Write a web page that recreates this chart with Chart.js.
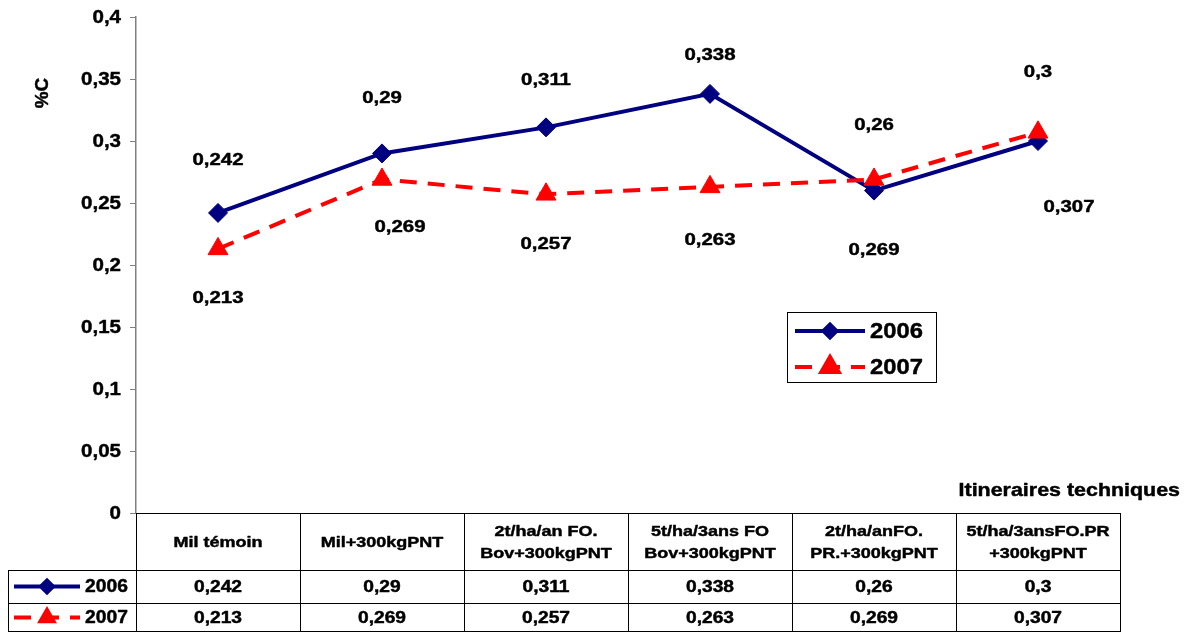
<!DOCTYPE html>
<html>
<head>
<meta charset="utf-8">
<script src="https://cdn.jsdelivr.net/npm/chart.js@4/dist/chart.umd.min.js"></script>
<style>
  html, body { margin: 0; padding: 0; background: #fff; }
  #wrap { width: 1184px; height: 633px; }
</style>
</head>
<body>
<div id="wrap"><canvas id="c" width="1184" height="633"></canvas></div>
<script>
// Itinéraires techniques (table header rows)
const categories = [
  ['Mil témoin'],
  ['Mil+300kgPNT'],
  ['2t/ha/an FO.', 'Bov+300kgPNT'],
  ['5t/ha/3ans FO', 'Bov+300kgPNT'],
  ['2t/ha/anFO.', 'PR.+300kgPNT'],
  ['5t/ha/3ansFO.PR', '+300kgPNT']
];
const values2006 = [0.242, 0.29, 0.311, 0.338, 0.26, 0.3];
const values2007 = [0.213, 0.269, 0.257, 0.263, 0.269, 0.307];
const yTicks = [0, 0.05, 0.1, 0.15, 0.2, 0.25, 0.3, 0.35, 0.4];

const FONT = '"Liberation Sans", Arial, Helvetica, sans-serif';
const fmt = v => String(v).replace('.', ',');

// label placement relative to each point (px)
const labelOffsets = {
  '2006': [[0, -53], [0, -55], [0, -47], [0, -39], [0, -65], [0, -69]],
  '2007': [[0, 49], [18, 48], [0, 50], [0, 53], [0, 71], [31, 75]]
};

// heavy bold text, slightly widened horizontally
function drawText(ctx, text, x, y, size, align, sx) {
  ctx.save();
  ctx.font = 'bold ' + size + 'px ' + FONT;
  ctx.textBaseline = 'middle';
  ctx.fillStyle = '#000';
  ctx.strokeStyle = '#000';
  ctx.lineWidth = 0.45;
  ctx.lineJoin = 'round';
  ctx.translate(x, y);
  ctx.scale(sx, 1);
  ctx.textAlign = align;
  ctx.fillText(text, 0, 0);
  ctx.strokeText(text, 0, 0);
  ctx.restore();
}

const overlay = {
  id: 'overlay',
  afterDatasetsDraw(chart) {
    const ctx = chart.ctx;
    const area = chart.chartArea;
    const xs = chart.scales.x;
    const ys = chart.scales.y;
    ctx.save();

    // y tick labels
    yTicks.forEach(v => {
      drawText(ctx, fmt(v), 121, ys.getPixelForValue(v) + 1, 19, 'right', 1.08);
    });

    // value labels
    chart.data.datasets.forEach(ds => {
      const offs = labelOffsets[ds.label];
      ds.data.forEach((v, i) => {
        const px = xs.getPixelForValue(i);
        const py = ys.getPixelForValue(v);
        drawText(ctx, fmt(v), px + offs[i][0], py + offs[i][1], 17, 'center', 1.2);
      });
    });

    // y axis title
    ctx.save();
    ctx.translate(43, 93);
    ctx.rotate(-Math.PI / 2);
    drawText(ctx, '%C', 0, 0, 18, 'center', 1.05);
    ctx.restore();

    // x axis title
    drawText(ctx, 'Itineraires techniques', 1180, 491, 18, 'right', 1.19);

    // legend key sample
    function key(ds, x0, x1, y, r) {
      ctx.save();
      ctx.strokeStyle = ds.borderColor;
      ctx.lineWidth = ds.borderWidth;
      ctx.setLineDash(ds.borderDash || []);
      ctx.beginPath();
      ctx.moveTo(x0, y);
      ctx.lineTo(x1, y);
      ctx.stroke();
      ctx.setLineDash([]);
      ctx.fillStyle = ds.pointBackgroundColor;
      ctx.strokeStyle = ds.pointBorderColor;
      Chart.helpers.drawPoint(ctx, {
        pointStyle: ds.pointStyle,
        radius: r,
        borderWidth: 1,
        rotation: 0
      }, (x0 + x1) / 2, y);
      ctx.restore();
    }

    const dsA = chart.data.datasets[0], dsB = chart.data.datasets[1];

    // floating legend
    ctx.strokeStyle = '#000';
    ctx.lineWidth = 1;
    ctx.strokeRect(787.5, 312.5, 149, 70);
    key(dsA, 795, 865, 331, 6.5);
    drawText(ctx, dsA.label, 870, 332, 22, 'left', 1.08);
    key(dsB, 795, 865, 367, 10);
    drawText(ctx, dsB.label, 870, 368, 22, 'left', 1.08);

    // data table
    const colW = (area.right - area.left) / categories.length;
    const top = area.bottom, r1 = 570, r2 = 603, bottom = 632;
    ctx.strokeStyle = '#000';
    ctx.lineWidth = 1;
    ctx.beginPath();
    ctx.moveTo(8, r1 + 0.5); ctx.lineTo(area.right, r1 + 0.5);
    ctx.moveTo(8, r2 + 0.5); ctx.lineTo(area.right, r2 + 0.5);
    ctx.moveTo(8, bottom - 0.5); ctx.lineTo(area.right, bottom - 0.5);
    ctx.moveTo(8.5, r1); ctx.lineTo(8.5, bottom);
    for (let i = 0; i <= categories.length; i++) {
      const x = Math.round(area.left + i * colW) + 0.5;
      ctx.moveTo(x, top); ctx.lineTo(x, bottom);
    }
    ctx.stroke();

    categories.forEach((lines, i) => {
      const cx = area.left + (i + 0.5) * colW;
      const cy = (top + r1) / 2 + 1;
      const lh = 22;
      lines.forEach((t, k) => {
        drawText(ctx, t, cx, cy + (k - (lines.length - 1) / 2) * lh, 15, 'center', 1.2);
      });
      drawText(ctx, fmt(values2006[i]), cx, (r1 + r2) / 2 + 1, 16, 'center', 1.2);
      drawText(ctx, fmt(values2007[i]), cx, (r2 + bottom) / 2 + 1, 16, 'center', 1.2);
    });

    key(dsA, 14, 80, (r1 + r2) / 2, 6);
    drawText(ctx, dsA.label, 85, (r1 + r2) / 2 + 1, 18, 'left', 1.07);
    key(dsB, 14, 80, (r2 + bottom) / 2, 7.5);
    drawText(ctx, dsB.label, 85, (r2 + bottom) / 2 + 1, 18, 'left', 1.07);

    ctx.restore();
  }
};

new Chart(document.getElementById('c'), {
  type: 'line',
  data: {
    labels: categories.map(c => c.join(' ')),
    datasets: [
      {
        label: '2006',
        data: values2006,
        borderColor: '#000080',
        backgroundColor: '#000080',
        pointBackgroundColor: '#000080',
        pointBorderColor: '#000080',
        borderWidth: 4,
        pointStyle: 'rectRot',
        pointRadius: 9.5,
        pointBorderWidth: 1,
        tension: 0,
        order: 1
      },
      {
        label: '2007',
        data: values2007,
        borderColor: '#FF0000',
        backgroundColor: '#FF0000',
        pointBackgroundColor: '#FF0000',
        pointBorderColor: '#FF0000',
        borderWidth: 4,
        borderDash: [17, 11],
        pointStyle: 'triangle',
        pointRadius: 11.5,
        pointBorderWidth: 1,
        tension: 0,
        order: 0
      }
    ]
  },
  options: {
    responsive: false,
    animation: false,
    events: [],
    layout: { padding: { top: 17, right: 64, left: 0, bottom: 0 } },
    plugins: {
      legend: { display: false },
      tooltip: { enabled: false },
      title: { display: false }
    },
    scales: {
      x: {
        offset: true,
        grid: { display: false, drawTicks: false },
        border: { display: true, color: '#000', width: 1 },
        ticks: { display: false },
        afterFit(scale) { scale.height = 120; }
      },
      y: {
        min: 0,
        max: 0.4,
        afterBuildTicks(scale) { scale.ticks = yTicks.map(v => ({ value: v })); },
        grid: { drawOnChartArea: false, drawTicks: true, tickLength: 6, color: '#808080' },
        border: { display: true, color: '#808080', width: 1.5 },
        ticks: { display: false },
        afterFit(scale) { scale.width = 136; }
      }
    }
  },
  plugins: [overlay]
});
</script>
</body>
</html>
